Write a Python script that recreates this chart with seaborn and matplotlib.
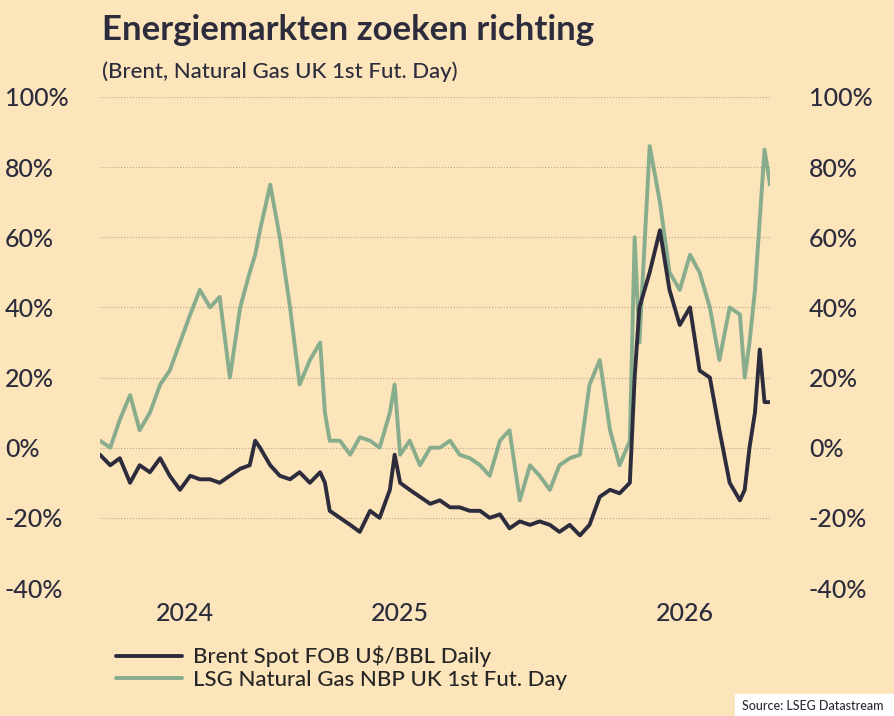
import matplotlib
matplotlib.use("Agg")
import matplotlib.pyplot as plt
import matplotlib.ticker as mticker
import seaborn as sns
import pandas as pd

# days since 2023-08-30
days = [0, 15, 29, 44, 58, 73, 88, 102, 117, 132, 146, 161, 175, 190, 205, 219, 227, 234, 249,
        263, 278, 292, 307, 322, 329, 336, 351, 366, 380, 395, 409, 424, 431, 439, 453, 468, 483,
        497, 512, 526, 541, 556, 570, 585, 599, 614, 629, 643, 658, 672, 687, 702, 716, 731, 746,
        760, 775, 782, 789, 804, 819, 833, 848, 863, 877, 892, 906, 921, 936, 943, 950, 958, 965, 972, 980]
brent = [-2, -5, -3, -10, -5, -7, -3, -8, -12, -8, -9, -9, -10, -8, -6, -5, 2, 0, -5,
         -8, -9, -7, -10, -7, -10, -18, -20, -22, -24, -18, -20, -12, -2, -10, -12, -14, -16,
         -15, -17, -17, -18, -18, -20, -19, -23, -21, -22, -21, -22, -24, -22, -25, -22, -14, -12,
         -13, -10, 20, 40, 50, 62, 45, 35, 40, 22, 20, 5, -10, -15, -12, 0, 10, 28, 13, 13]
gas = [2, 0, 8, 15, 5, 10, 18, 22, 30, 38, 45, 40, 43, 20, 40, 50, 55, 62, 75,
       60, 40, 18, 25, 30, 10, 2, 2, -2, 3, 2, 0, 10, 18, -2, 2, -5, 0,
       0, 2, -2, -3, -5, -8, 2, 5, -15, -5, -8, -12, -5, -3, -2, 18, 25, 5,
       -5, 2, 60, 30, 86, 70, 50, 45, 55, 50, 40, 25, 40, 38, 20, 30, 45, 65, 85, 75]
tick_days = [124, 439, 855]
tick_labels = ["2024", "2025", "2026"]

df = pd.DataFrame({"day": days, "Brent": brent, "Gas": gas})

bg = "#fce4bb"
dark = "#2c2c3c"
green = "#87ad8d"
sns.set_theme(style="white")
plt.rcParams["font.family"] = ["Lato", "DejaVu Sans"]
plt.rcParams["font.weight"] = "medium"

fig = plt.figure(figsize=(8.94, 7.16), dpi=100, facecolor=bg)
ax = fig.add_axes([100/894, 1-588/716, 670/894, 491/716])
ax.set_facecolor(bg)
sns.lineplot(data=df, x="day", y="Gas", ax=ax, color=green, lw=2.8, label="LSG Natural Gas NBP UK 1st Fut. Day")
sns.lineplot(data=df, x="day", y="Brent", ax=ax, color=dark, lw=2.8, label="Brent Spot FOB U$/BBL Daily")
ax.set_ylim(-40, 100)
ax.set_xlim(0, 980)
ax.set_yticks(range(-40, 101, 20))
ax.yaxis.set_major_formatter(mticker.FuncFormatter(lambda v, p: f"{v:.0f}%"))
ax.set_xticks(tick_days, tick_labels)
ax.grid(axis="y", color="#b8a88a", ls=":", lw=0.8)
for s in ax.spines.values():
    s.set_visible(False)
ax.tick_params(axis="both", length=0, labelsize=18, colors="#2c2c3c", pad=10)
ax.tick_params(axis="y", pad=0)
ax.set_xlabel("")
ax.set_ylabel("")
ax2 = ax.twinx()
ax2.set_ylim(ax.get_ylim())
ax2.set_yticks(range(-40, 101, 20))
ax2.yaxis.set_major_formatter(mticker.FuncFormatter(lambda v, p: f"{v:.0f}%"))
ax2.tick_params(axis="y", length=0, labelsize=18, colors="#2c2c3c", pad=28)
for s in ax2.spines.values():
    s.set_visible(False)
for lab in ax.get_yticklabels():
    lab.set_horizontalalignment("left")
    lab.set_x(-95/670)

h, l = ax.get_legend_handles_labels()
ax.legend(h[::-1], l[::-1], loc="upper left", bbox_to_anchor=(0.01, -0.1), frameon=False,
          fontsize=16, handlelength=3, labelspacing=0.1, borderaxespad=0, handletextpad=0.5)

fig.text(102/894, 1-30/716, "Energiemarkten zoeken richting", fontsize=25, fontweight="bold",
         color="#2c2c3c", va="center")
fig.text(102/894, 1-72/716, "(Brent, Natural Gas UK 1st Fut. Day)", fontsize=16,
         color="#2c2c3c", va="center")
fig.patches.append(plt.Rectangle((735/894, 0), 159/894, 22/716, transform=fig.transFigure,
                                 color="white", zorder=0))
fig.text(884/894, 1-706/716, "Source: LSEG Datastream", fontsize=9, ha="right", va="center",
         color="#2c2c3c")
fig.savefig("out.png", dpi=100, facecolor=bg)
